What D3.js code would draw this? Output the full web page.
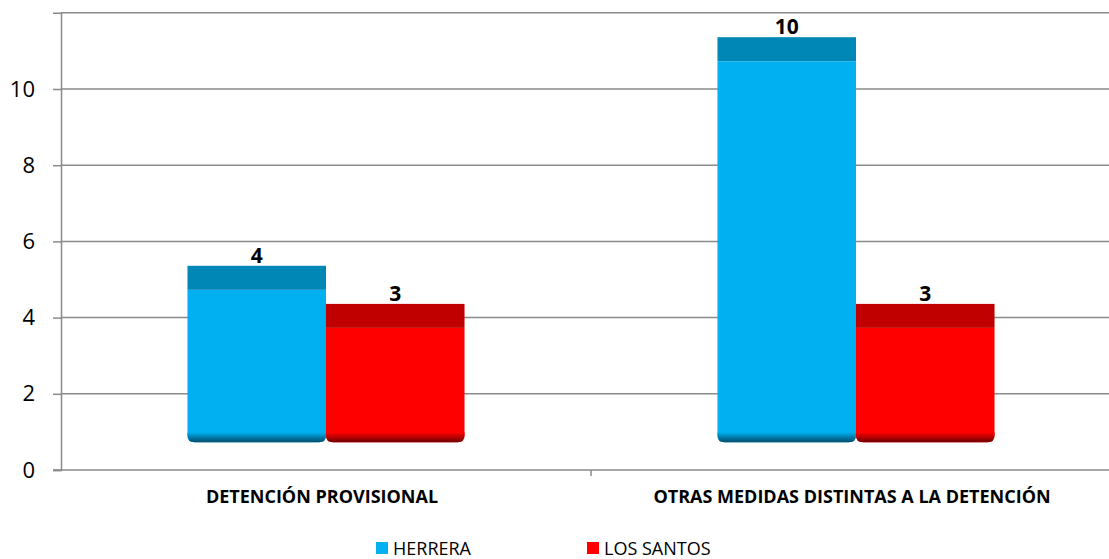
<!DOCTYPE html>
<html>
<head>
<meta charset="utf-8">
<style>
    body { margin: 0; background: #fff; }
    text { font-family: "Open Sans", sans-serif; fill: #000; }
</style>
</head>
<body>
<script src="https://cdn.jsdelivr.net/npm/d3@7"></script>
<script>
    // data
    var categories = ["DETENCIÓN PROVISIONAL", "OTRAS MEDIDAS DISTINTAS A LA DETENCIÓN"];
    var series = ["HERRERA", "LOS SANTOS"];
    var herrera = [4, 10];
    var losSantos = [3, 3];
    var yTicks = [0, 2, 4, 6, 8, 10];
    var gridValues = [2, 4, 6, 8, 10, 12];

    var colors = { "HERRERA": "#00B0F0", "LOS SANTOS": "#FF0000" };
    var capColors = { "HERRERA": "#0087B5", "LOS SANTOS": "#C00000" };
    var darkColors = { "HERRERA": "#004C6A", "LOS SANTOS": "#700000" };

    var width = 1109, height = 559;
    var floor = 0.73;      // 3d floor offset in value units
    var capH = 24;         // depth of top face, px

    var rows = [];
    categories.forEach(function (c, i) {
        rows.push({ cat: c, s: "HERRERA", v: herrera[i] });
        rows.push({ cat: c, s: "LOS SANTOS", v: losSantos[i] });
    });

    var svg = d3.select("body").append("svg")
        .attr("width", width)
        .attr("height", height);

    var y = d3.scaleLinear().domain([0, 12]).range([470, 12.8]);
    var x0 = d3.scaleBand().domain(categories).range([61, 1121]);
    var x1 = d3.scaleBand().domain(series).range([0, x0.bandwidth()])
        .paddingInner(0).paddingOuter(0.913);

    // gradients for bottom edge
    var defs = svg.append("defs");
    series.forEach(function (s, i) {
        var g = defs.append("linearGradient").attr("id", "bot" + i)
            .attr("x1", 0).attr("y1", 0).attr("x2", 0).attr("y2", 1);
        g.append("stop").attr("offset", "0%").attr("stop-color", colors[s]);
        g.append("stop").attr("offset", "100%").attr("stop-color", darkColors[s]);
    });

    // gridlines
    svg.append("g").selectAll("line")
        .data(gridValues)
        .enter().append("line")
        .attr("x1", 61).attr("x2", width)
        .attr("y1", function (d) { return y(d); })
        .attr("y2", function (d) { return y(d); })
        .attr("stroke", "#8a8a8a")
        .attr("stroke-width", 1.5);

    // y axis
    var yAxis = svg.append("g")
        .attr("transform", "translate(61,0)")
        .call(d3.axisLeft(y).tickValues(yTicks).tickSize(8).tickPadding(18).tickFormat(d3.format("d")));
    yAxis.select(".domain").attr("stroke", "#8a8a8a").attr("stroke-width", 1.5);
    yAxis.selectAll(".tick line").attr("stroke", "#8a8a8a").attr("stroke-width", 1.5);
    yAxis.selectAll(".tick text")
        .style("font-family", "'Open Sans', sans-serif")
        .style("font-size", "22px")
        .attr("fill", "#000");

    // x axis baseline + category tick
    svg.append("line")
        .attr("x1", 53).attr("x2", width)
        .attr("y1", y(0)).attr("y2", y(0))
        .attr("stroke", "#8a8a8a").attr("stroke-width", 1.5);
    svg.append("line")
        .attr("x1", x0(categories[1])).attr("x2", x0(categories[1]))
        .attr("y1", y(0)).attr("y2", y(0) + 6)
        .attr("stroke", "#8a8a8a").attr("stroke-width", 1.5);

    svg.append("g").selectAll("text")
        .data(categories)
        .enter().append("text")
        .attr("x", function (d) { return x0(d) + x0.bandwidth() / 2 - 4; })
        .attr("y", 503)
        .attr("text-anchor", "middle")
        .style("font-size", "18px")
        .style("font-weight", "bold")
        .text(function (d) { return d; });

    // bars
    var bars = svg.append("g").selectAll("g")
        .data(rows)
        .enter().append("g");

    function frontPath(d) {
        var x = x0(d.cat) + x1(d.s), w = x1.bandwidth();
        var top = y(d.v + floor), bot = y(floor), r = 7;
        return "M" + x + "," + top + "H" + (x + w) + "V" + (bot - r) +
            "Q" + (x + w) + "," + bot + " " + (x + w - r) + "," + bot +
            "H" + (x + r) + "Q" + x + "," + bot + " " + x + "," + (bot - r) + "Z";
    }
    function bottomPath(d) {
        var x = x0(d.cat) + x1(d.s), w = x1.bandwidth();
        var bot = y(floor), top = bot - 10, r = 7;
        return "M" + x + "," + top + "H" + (x + w) + "V" + (bot - r) +
            "Q" + (x + w) + "," + bot + " " + (x + w - r) + "," + bot +
            "H" + (x + r) + "Q" + x + "," + bot + " " + x + "," + (bot - r) + "Z";
    }

    bars.append("path")
        .attr("d", frontPath)
        .attr("fill", function (d) { return colors[d.s]; });
    bars.append("path")
        .attr("d", bottomPath)
        .attr("fill", function (d) { return "url(#bot" + series.indexOf(d.s) + ")"; });
    bars.append("rect")
        .attr("x", function (d) { return x0(d.cat) + x1(d.s); })
        .attr("y", function (d) { return y(d.v + floor) - capH; })
        .attr("width", x1.bandwidth())
        .attr("height", capH)
        .attr("fill", function (d) { return capColors[d.s]; });

    // value labels
    bars.append("text")
        .attr("x", function (d) { return x0(d.cat) + x1(d.s) + x1.bandwidth() / 2; })
        .attr("y", function (d) { return y(d.v + floor) - capH - 3; })
        .attr("text-anchor", "middle")
        .style("font-size", "21px")
        .style("font-weight", "bold")
        .text(function (d) { return d.v; });

    // legend
    var legend = svg.append("g").selectAll("g")
        .data(series)
        .enter().append("g")
        .attr("transform", function (d, i) { return "translate(" + (376 + i * 211) + ",542)"; });
    legend.append("rect")
        .attr("width", 12).attr("height", 12)
        .attr("fill", function (d) { return colors[d]; });
    legend.append("text")
        .attr("x", 17).attr("y", 13)
        .style("font-size", "18px")
        .text(function (d) { return d; });
</script>
</body>
</html>
